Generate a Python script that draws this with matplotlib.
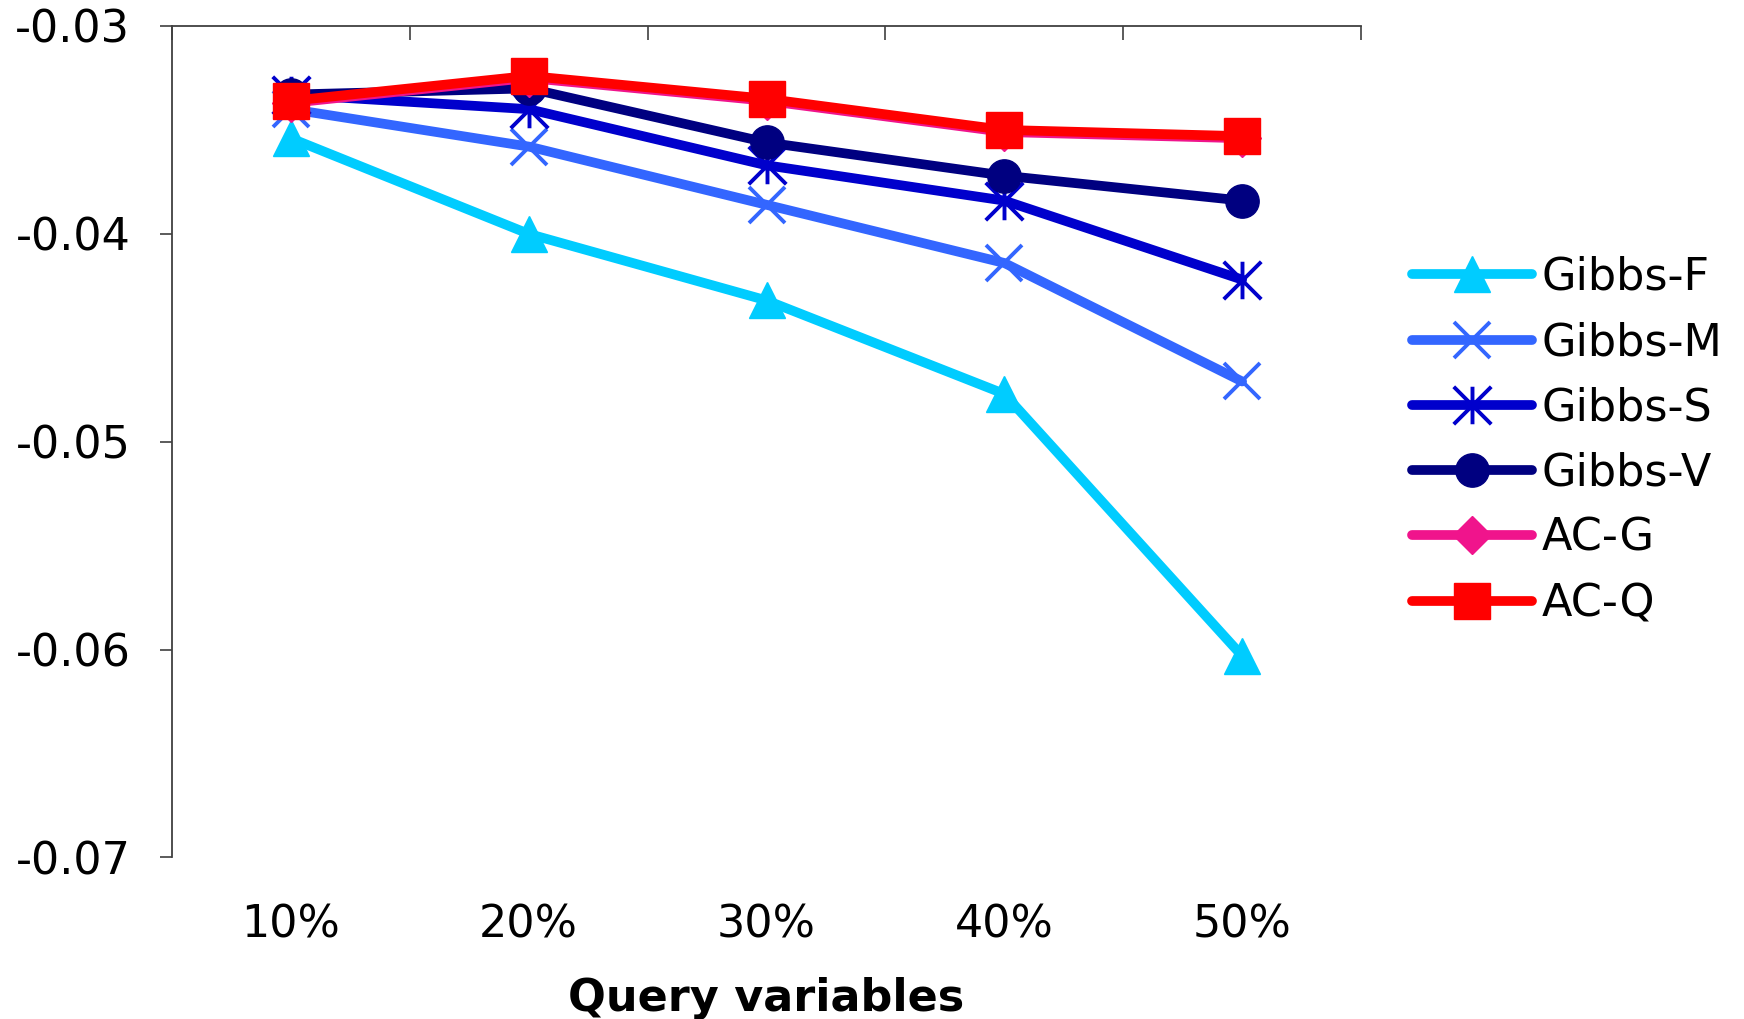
import numpy as np
import matplotlib
matplotlib.use('Agg')
import matplotlib.pyplot as plt
from matplotlib.path import Path

plt.rcParams['font.family'] = ['DejaVu Sans']
plt.rcParams['axes.unicode_minus'] = False  # 普通のハイフンでマイナスを表示

# クエリ変数の割合
categories = ['10%', '20%', '30%', '40%', '50%']

# 各手法の値
gibbs_f = [-0.0354, -0.0400, -0.0432, -0.0477, -0.0603]
gibbs_m = [-0.0340, -0.0358, -0.0386, -0.0414, -0.0471]
gibbs_s = [-0.0333, -0.0340, -0.0367, -0.0384, -0.0422]
gibbs_v = [-0.0333, -0.0330, -0.0356, -0.0372, -0.0384]
ac_g = [-0.0337, -0.0325, -0.0336, -0.0351, -0.0354]
ac_q = [-0.0336, -0.0324, -0.0335, -0.0350, -0.0353]

y_ticks = [-0.07, -0.06, -0.05, -0.04, -0.03]
y_tick_labels = ['-0.07', '-0.06', '-0.05', '-0.04', '-0.03']

# アスタリスク型マーカー（×と縦線）
asterisk = Path(
    [(-1, -1), (1, 1), (-1, 1), (1, -1), (0, -1), (0, 1)],
    [Path.MOVETO, Path.LINETO, Path.MOVETO, Path.LINETO, Path.MOVETO, Path.LINETO],
)

series = [
    ('Gibbs-F', gibbs_f, '#00CCFF', dict(marker='^', ms=26, mec='#00CCFF', mew=1)),
    ('Gibbs-M', gibbs_m, '#3366FF', dict(marker='x', ms=26, mec='#3366FF', mew=2.8)),
    ('Gibbs-S', gibbs_s, '#0000CC', dict(marker=asterisk, ms=27, mec='#0000CC', mfc='none', mew=2.8)),
    ('Gibbs-V', gibbs_v, '#000080', dict(marker='o', ms=24, mec='#000080', mew=1)),
    ('AC-G', ac_g, '#F0148C', dict(marker='D', ms=19, mec='#F0148C', mew=1)),
    ('AC-Q', ac_q, '#FF0000', dict(marker='s', ms=26, mec='#FF0000', mew=1)),
]

fig = plt.figure(figsize=(17.44, 10.19), dpi=100)
ax = fig.add_axes([172 / 1744, 1 - 857.5 / 1019, (1361 - 172) / 1744, (857.5 - 26) / 1019])

x = np.arange(len(categories))
for name, values, color, mk in series:
    ax.plot(x, values, color=color, lw=7, label=name,
            solid_capstyle='round', solid_joinstyle='round', **mk)

ax.set_xlim(-0.5, len(categories) - 0.5)
ax.set_ylim(-0.07, -0.03)

# 軸の設定
axis_color = '#404040'
for side in ['right', 'bottom']:
    ax.spines[side].set_visible(False)
for side in ['left', 'top']:
    ax.spines[side].set_color(axis_color)
    ax.spines[side].set_linewidth(1.3)

ax.set_yticks(y_ticks)
ax.set_yticklabels(y_tick_labels)
ax.tick_params(axis='y', direction='out', length=9, width=1.2, color=axis_color,
               labelsize=32, pad=21)

ax.set_xticks(x)
ax.set_xticklabels(categories)
ax.set_xticks(np.arange(-0.5, len(categories), 1), minor=True)
ax.tick_params(axis='x', which='major', length=0, labelsize=32, pad=33)
ax.tick_params(axis='x', which='minor', bottom=False, top=True, direction='in',
               length=10, width=1.2, color=axis_color)

ax.set_xlabel('Query variables', fontsize=32, fontweight='bold', labelpad=22)

ax.legend(loc='upper left', bbox_to_anchor=(1412 / 1744, 1 - 256 / 1019),
          bbox_transform=fig.transFigure, frameon=False, fontsize=32,
          borderpad=0, borderaxespad=0, handlelength=2.7, handletextpad=0.22,
          labelspacing=0.5)

fig.savefig('out.png', dpi=100)
